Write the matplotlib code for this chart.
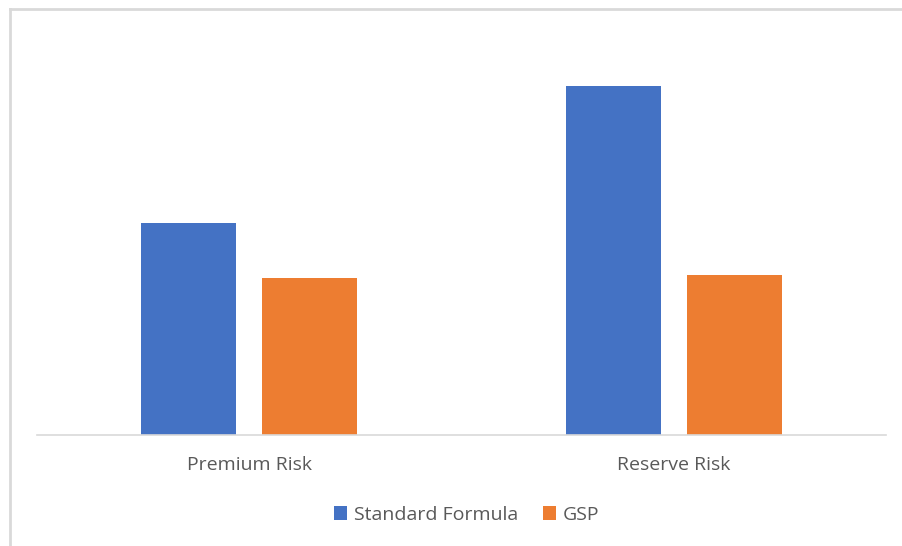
import matplotlib.pyplot as plt
from matplotlib.lines import Line2D
import numpy as np

categories = ["Premium Risk", "Reserve Risk"]
standard_formula = [212, 349]
gsp = [157, 160]

BLUE = "#4472C4"
ORANGE = "#ED7D31"
TEXT = "#595959"

plt.rcParams["font.family"] = ["Open Sans", "DejaVu Sans"]

fig = plt.figure(figsize=(9.02, 5.46), dpi=100)
W, H = 902, 546

# Chart area frame (only the top and left edges show)
fig.add_artist(Line2D([9.5 / W, 1.0], [1 - 8.5 / H, 1 - 8.5 / H],
                      color="#d9d9d9", lw=2, transform=fig.transFigure))
fig.add_artist(Line2D([9.5 / W, 9.5 / W], [0, 1 - 8.5 / H],
                      color="#d9d9d9", lw=2, transform=fig.transFigure))

ax = fig.add_axes([37 / W, 1 - 435 / H, (886 - 37) / W, (435 - 20) / H])

x = np.arange(len(categories))
width = 0.224
offset = 0.143
ax.bar(x - offset, standard_formula, width, color=BLUE, label="Standard Formula")
ax.bar(x + offset, gsp, width, color=ORANGE, label="GSP")

ax.set_xlim(-0.5, len(categories) - 0.5)
ax.set_ylim(0, 415)
ax.set_xticks(x)
ax.set_xticklabels(categories, color=TEXT, fontsize=14)
ax.tick_params(axis="x", length=0, pad=15)
ax.set_yticks([])

for side in ["top", "right", "left"]:
    ax.spines[side].set_visible(False)
ax.spines["bottom"].set_color("#d9d9d9")
ax.spines["bottom"].set_linewidth(1.2)

leg = ax.legend(loc="center", bbox_to_anchor=(0.506, -0.192), ncol=2,
                frameon=False, fontsize=14, handlelength=0.68,
                handleheight=0.68, handletextpad=0.35, columnspacing=1.3)
for t in leg.get_texts():
    t.set_color(TEXT)

fig.savefig("out.png", dpi=100, facecolor="white")
